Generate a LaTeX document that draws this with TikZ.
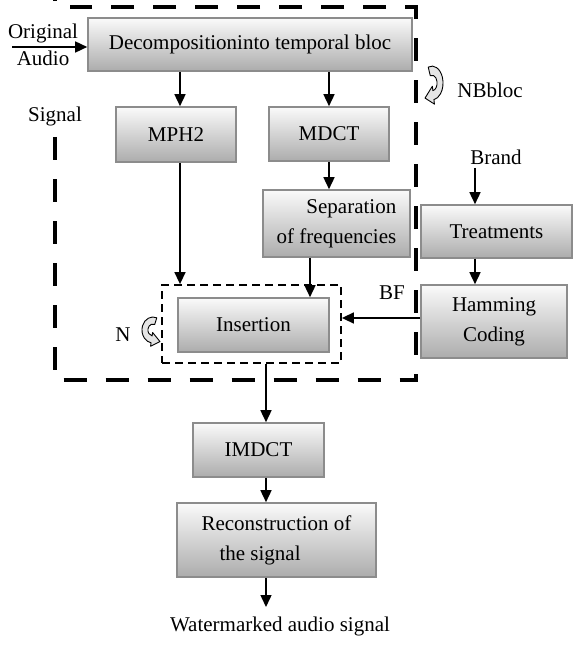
\documentclass[tikz,border=0pt]{standalone}
\usepackage{fontspec}
\setmainfont{Liberation Serif}
\usetikzlibrary{arrows.meta,calc}
\definecolor{boxedge}{RGB}{140,140,140}
\definecolor{boxtop}{RGB}{250,250,250}
\definecolor{boxbot}{RGB}{172,172,172}
\begin{document}
\begin{tikzpicture}[x=1pt,y=-1pt,
  every node/.style={font=\fontsize{21}{30}\selectfont, inner sep=0pt},
  box/.style={draw=boxedge, line width=1.6pt, top color=boxtop, bottom color=boxbot, rectangle},
  arr/.style={line width=1.5pt, -{Triangle[length=12pt,width=11pt]}},
  bigdash/.style={draw, line width=3.5pt, dash pattern=on 23pt off 19pt},
  smalldash/.style={draw, line width=1.8pt, dash pattern=on 8pt off 5pt},
  curv/.pic={
    \filldraw[fill=black!10, line width=0.9pt, line join=round]
      (110:13) arc[start angle=110, end angle=-80, radius=13] -- (-80:16.5)
      -- (-8.2,-11.6) -- (-80:2.5) -- (-80:6)
      arc[start angle=-80, end angle=110, radius=6] -- cycle;
  }]
\useasboundingbox (0,0) rectangle (578,647);

% groups
\node[minimum width=361pt, minimum height=373pt] (sig) at (235.5,193.5) {};
\draw[bigdash] (sig.west |- 0,137) -- (sig.south west) -- (sig.south east) -- (sig.north east) -- ([xshift=15pt]sig.north west);
\draw[line width=3.5pt] ([yshift=6pt]sig.north west) -- ([yshift=10pt]sig.north west);
\node[smalldash, minimum width=179pt, minimum height=78pt] (grp) at (251.5,324) {};

% boxes
\node[box, minimum width=324pt, minimum height=53pt] (dec) at (250,44.5) {Decompositioninto temporal bloc};
\node[box, minimum width=120pt, minimum height=55pt] (mph) at (176,134.5) {MPH2};
\node[box, minimum width=120pt, minimum height=54pt] (mdct) at (329,134) {MDCT};
\node[box, minimum width=147pt, minimum height=67pt, align=right] (sep) at (336.5,223.5) {Separation\\of frequencies};
\node[box, minimum width=151pt, minimum height=53pt] (treat) at (496.5,231.5) {Treatments};
\node[box, minimum width=146pt, minimum height=73pt, align=center] (ham) at (494,321.5) {Hamming\\Coding};
\node[box, minimum width=151pt, minimum height=54pt] (ins) at (253.5,325) {Insertion};
\node[box, minimum width=131pt, minimum height=54pt] (imdct) at (258.5,450) {IMDCT};
\node[box, minimum width=199pt, minimum height=74pt, align=left] (rec) at (276.5,540) {Reconstruction of\\\hspace*{18pt}the signal};

% labels
\node[align=center, font=\fontsize{21}{27}\selectfont] (orig) at (43,45) {Original\\Audio};
\node (signal) at (55,116) {Signal};
\node (nb) at (490,90) {NBbloc};
\node (brand) at (496,157) {Brand};
\node (bf) at (392,293) {BF};
\node (n) at (123,335) {N};
\node (wm) at (280,626) {Watermarked audio signal};

% curved hollow arrows
\pic[xscale=0.85, yscale=-1.3] (nbarrow) at (432,83) {curv};
\pic[xscale=-0.85, yscale=-1.0] (narrow) at (153,330) {curv};

% free ends
\coordinate (inA) at (12,47);
\coordinate (brandA) at (475,168);
\coordinate (outA) at (266,607);

% connectors
\draw[arr] (inA) -- (inA -| dec.west);
\draw[arr] ([xshift=4pt]mph.north |- dec.south) -- ([xshift=4pt]mph.north);
\draw[arr] (mdct.north |- dec.south) -- (mdct.north);
\draw[arr] (mdct.south) -- (mdct.south |- sep.north);
\draw[arr] ([xshift=4pt]mph.south) -- ([xshift=4pt]mph.south |- grp.north);
\draw[arr] (sep.south -| 310,0) -- (ins.north -| 310,0);
\draw[arr] (brandA) -- (brandA |- treat.north);
\draw[arr] (treat.south -| brandA) -- (ham.north -| brandA);
\draw[arr] (ham.west |- 0,318) -- (grp.east |- 0,318);
\draw[arr] (grp.south -| outA) -- (imdct.north -| outA);
\draw[arr] (imdct.south -| outA) -- (rec.north -| outA);
\draw[arr] (rec.south -| outA) -- (outA);
\end{tikzpicture}
\end{document}
